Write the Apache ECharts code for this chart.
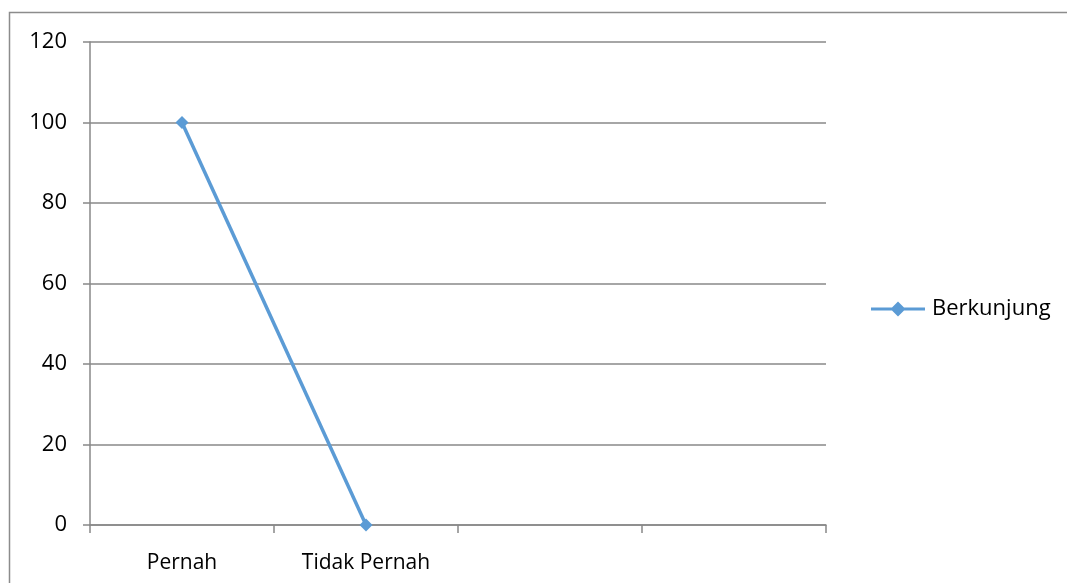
<!DOCTYPE html>
<html>
<head>
<meta charset="utf-8">
<script src="https://cdn.jsdelivr.net/npm/echarts@6/dist/echarts.min.js"></script>
<style>
  html, body { margin: 0; padding: 0; background: #fff; }
  #chart { width: 1067px; height: 583px; }
</style>
</head>
<body>
<div id="chart"></div>
<script>
// Visit history of respondents
const categories = ['Pernah', 'Tidak Pernah', '', ''];
const berkunjung = [100, 0];
const yTicks = { min: 0, max: 120, step: 20 };
const seriesName = 'Berkunjung';

const lineColor = '#5B9BD5';
const gridColor = '#888888';
const labelFont = '"Open Sans", Lato, "DejaVu Sans", sans-serif';

const chart = echarts.init(document.getElementById('chart'), null, { renderer: 'canvas' });
chart.setOption({
  animation: false,
  backgroundColor: '#ffffff',
  graphic: [{
    type: 'rect',
    shape: { x: 9.5, y: 12.5, width: 1100, height: 620 },
    style: { fill: 'none', stroke: '#8c8c8c', lineWidth: 1.5 },
    silent: true
  }],
  grid: { left: 90, right: 241, top: 42, bottom: 58, containLabel: false },
  legend: {
    left: 866,
    top: 293,
    orient: 'vertical',
    icon: 'path://M0,5 L21,5 L27,-1 L33,5 L54,5 L54,8 L33,8 L27,14 L21,8 L0,8 Z',
    itemWidth: 54,
    itemHeight: 15,
    itemGap: 6,
    textStyle: { fontFamily: labelFont, fontSize: 22, color: '#000', padding: [0, 0, 0, 2] },
    data: [seriesName]
  },
  xAxis: {
    type: 'category',
    data: categories,
    boundaryGap: true,
    axisLine: { show: true, lineStyle: { color: gridColor, width: 1.5 } },
    axisTick: { show: true, length: 8, interval: 0, lineStyle: { color: gridColor, width: 1.5 } },
    axisLabel: { interval: 0, margin: 28, fontFamily: labelFont, fontSize: 21, color: '#000' },
    splitLine: { show: false }
  },
  yAxis: {
    type: 'value',
    min: yTicks.min,
    max: yTicks.max,
    interval: yTicks.step,
    axisLine: { show: true, lineStyle: { color: gridColor, width: 1.5 } },
    axisTick: { show: true, length: 7, lineStyle: { color: gridColor, width: 1.5 } },
    axisLabel: { margin: 23, fontFamily: labelFont, fontSize: 22, color: '#000' },
    splitLine: { show: true, lineStyle: { color: gridColor, width: 1.5 } }
  },
  series: [{
    name: seriesName,
    type: 'line',
    data: berkunjung,
    symbol: 'diamond',
    symbolSize: 13,
    showAllSymbol: true,
    lineStyle: { color: lineColor, width: 3.5 },
    itemStyle: { color: lineColor },
    emphasis: { disabled: true }
  }]
});
</script>
</body>
</html>
